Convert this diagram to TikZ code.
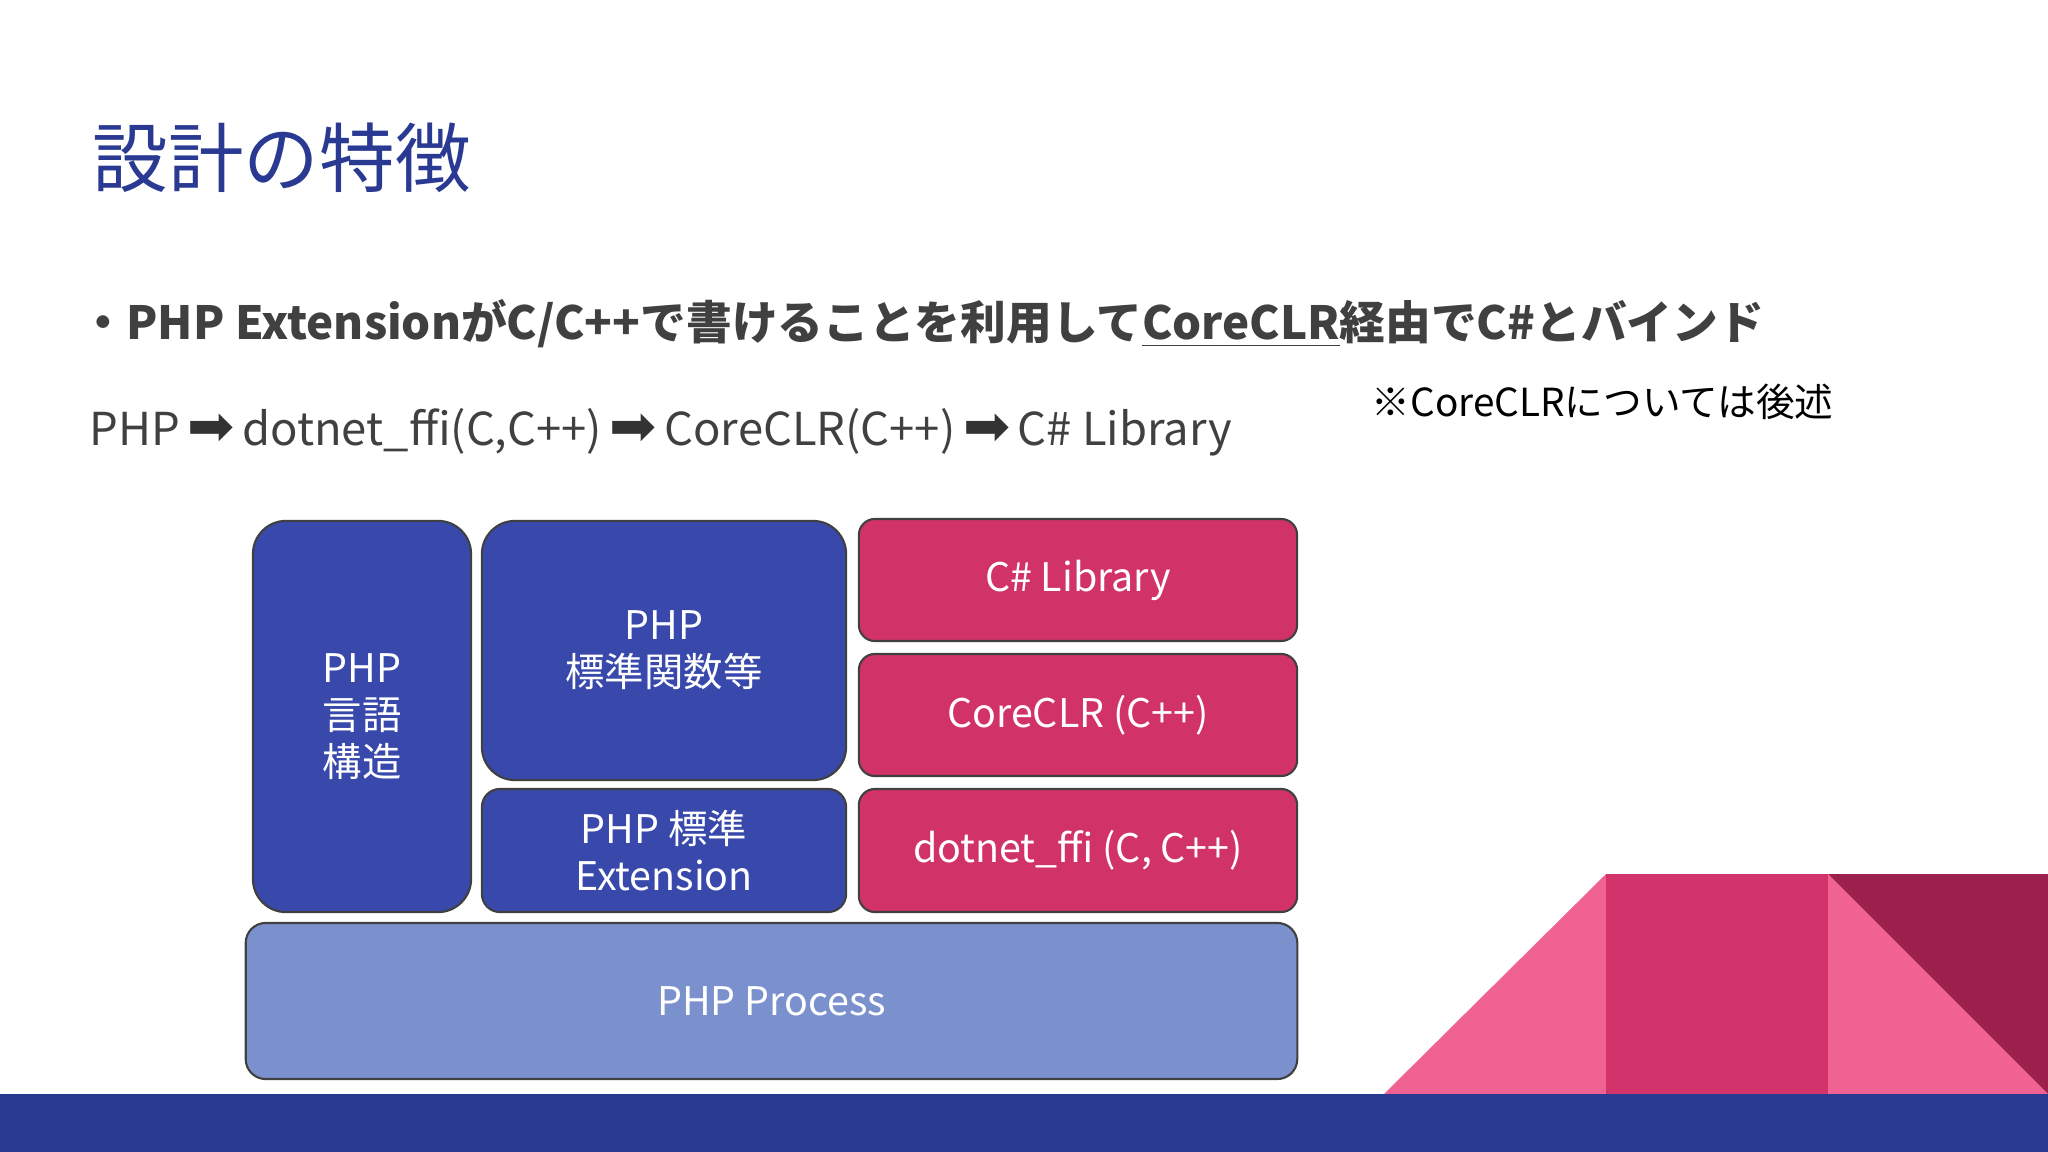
\documentclass[tikz,border=0pt]{standalone}
\usepackage{fontspec}
\setmainfont{Noto Sans CJK JP}
\newfontfamily\arrowfont{DejaVu Sans}
\usetikzlibrary{positioning}

\definecolor{slideblue}{HTML}{2A3A92}
\definecolor{boxblue}{HTML}{3949AB}
\definecolor{boxpink}{HTML}{D13368}
\definecolor{procblue}{HTML}{7B91CE}
\definecolor{tripink}{HTML}{EF6292}
\definecolor{trimid}{HTML}{D1336A}
\definecolor{tridark}{HTML}{9C214D}
\definecolor{textgray}{HTML}{404040}

\newcommand{\flowarrow}{\,{\arrowfont\fontsize{16pt}{16pt}\selectfont\color{black!80}➡}\,}

\begin{document}
\begin{tikzpicture}[x=0.01cm, y=-0.01cm,
  layerbox/.style={draw=black!75, line width=0.6pt, text=white, align=center,
    inner sep=0pt, font=\fontsize{11.2pt}{13.4pt}\selectfont},
  bluebox/.style={layerbox, fill=boxblue, rounded corners=0.33cm},
  pinkbox/.style={layerbox, fill=boxpink, rounded corners=0.16cm}]
  \useasboundingbox (0,0) rectangle (2048,1152);
  % Decoration, bottom right
  \fill[tripink] (1384,1094) -- (1606,874) -- (1606,1094) -- cycle;
  \fill[trimid] (1606,874) rectangle (1828,1094);
  \fill[tripink] (1828,874) -- (2048,1094) -- (1828,1094) -- cycle;
  \fill[tridark] (1828,874) -- (2048,874) -- (2048,1094) -- cycle;
  \fill[slideblue] (0,1094) rectangle (2048,1152);
  % Title and texts
  \node[anchor=west, inner sep=0pt, text=slideblue, font=\fontsize{21.5pt}{24pt}\selectfont]
    (title) at (92,158) {設計の特徴};
  \node[anchor=west, inner sep=0pt, text=textgray, font=\bfseries\fontsize{13pt}{16pt}\selectfont]
    (bullet) at (80,324) {・PHP ExtensionがC/C++で書けることを利用して\underline{CoreCLR}経由でC\#とバインド};
  \node[anchor=west, inner sep=0pt, text=textgray, font=\fontsize{12.9pt}{16pt}\selectfont]
    (flow) at (89,432) {PHP\flowarrow dotnet\_ffi(C,C++)\flowarrow CoreCLR(C++)\flowarrow C\# Library};
  \node[anchor=west, inner sep=0pt, text=black, font=\fontsize{11pt}{14pt}\selectfont]
    (note) at (1371,402) {※CoreCLRについては後述};
  % Layer boxes
  \node[bluebox, minimum width=2.18cm, minimum height=3.91cm] (lang) at (362,716.5) {PHP\\言語\\構造};
  \node[bluebox, minimum width=3.64cm, minimum height=2.59cm] (func) at (664,650.5) {PHP\\標準関数等};
  \node[bluebox, rounded corners=0.18cm, minimum width=3.64cm, minimum height=1.23cm] (ext) at (664,850.5) {PHP 標準\\Extension};
  \node[pinkbox, minimum width=4.38cm, minimum height=1.22cm] (cslib) at (1078,580) {C\# Library};
  \node[pinkbox, minimum width=4.38cm, minimum height=1.22cm] (clr) at (1078,715) {CoreCLR (C++)};
  \node[pinkbox, minimum width=4.38cm, minimum height=1.23cm] (ffi) at (1078,850.5) {dotnet\_ffi (C, C++)};
  \node[layerbox, fill=procblue, rounded corners=0.2cm, minimum width=10.51cm, minimum height=1.56cm] (proc) at (771.5,1001) {PHP Process};
\end{tikzpicture}
\end{document}
